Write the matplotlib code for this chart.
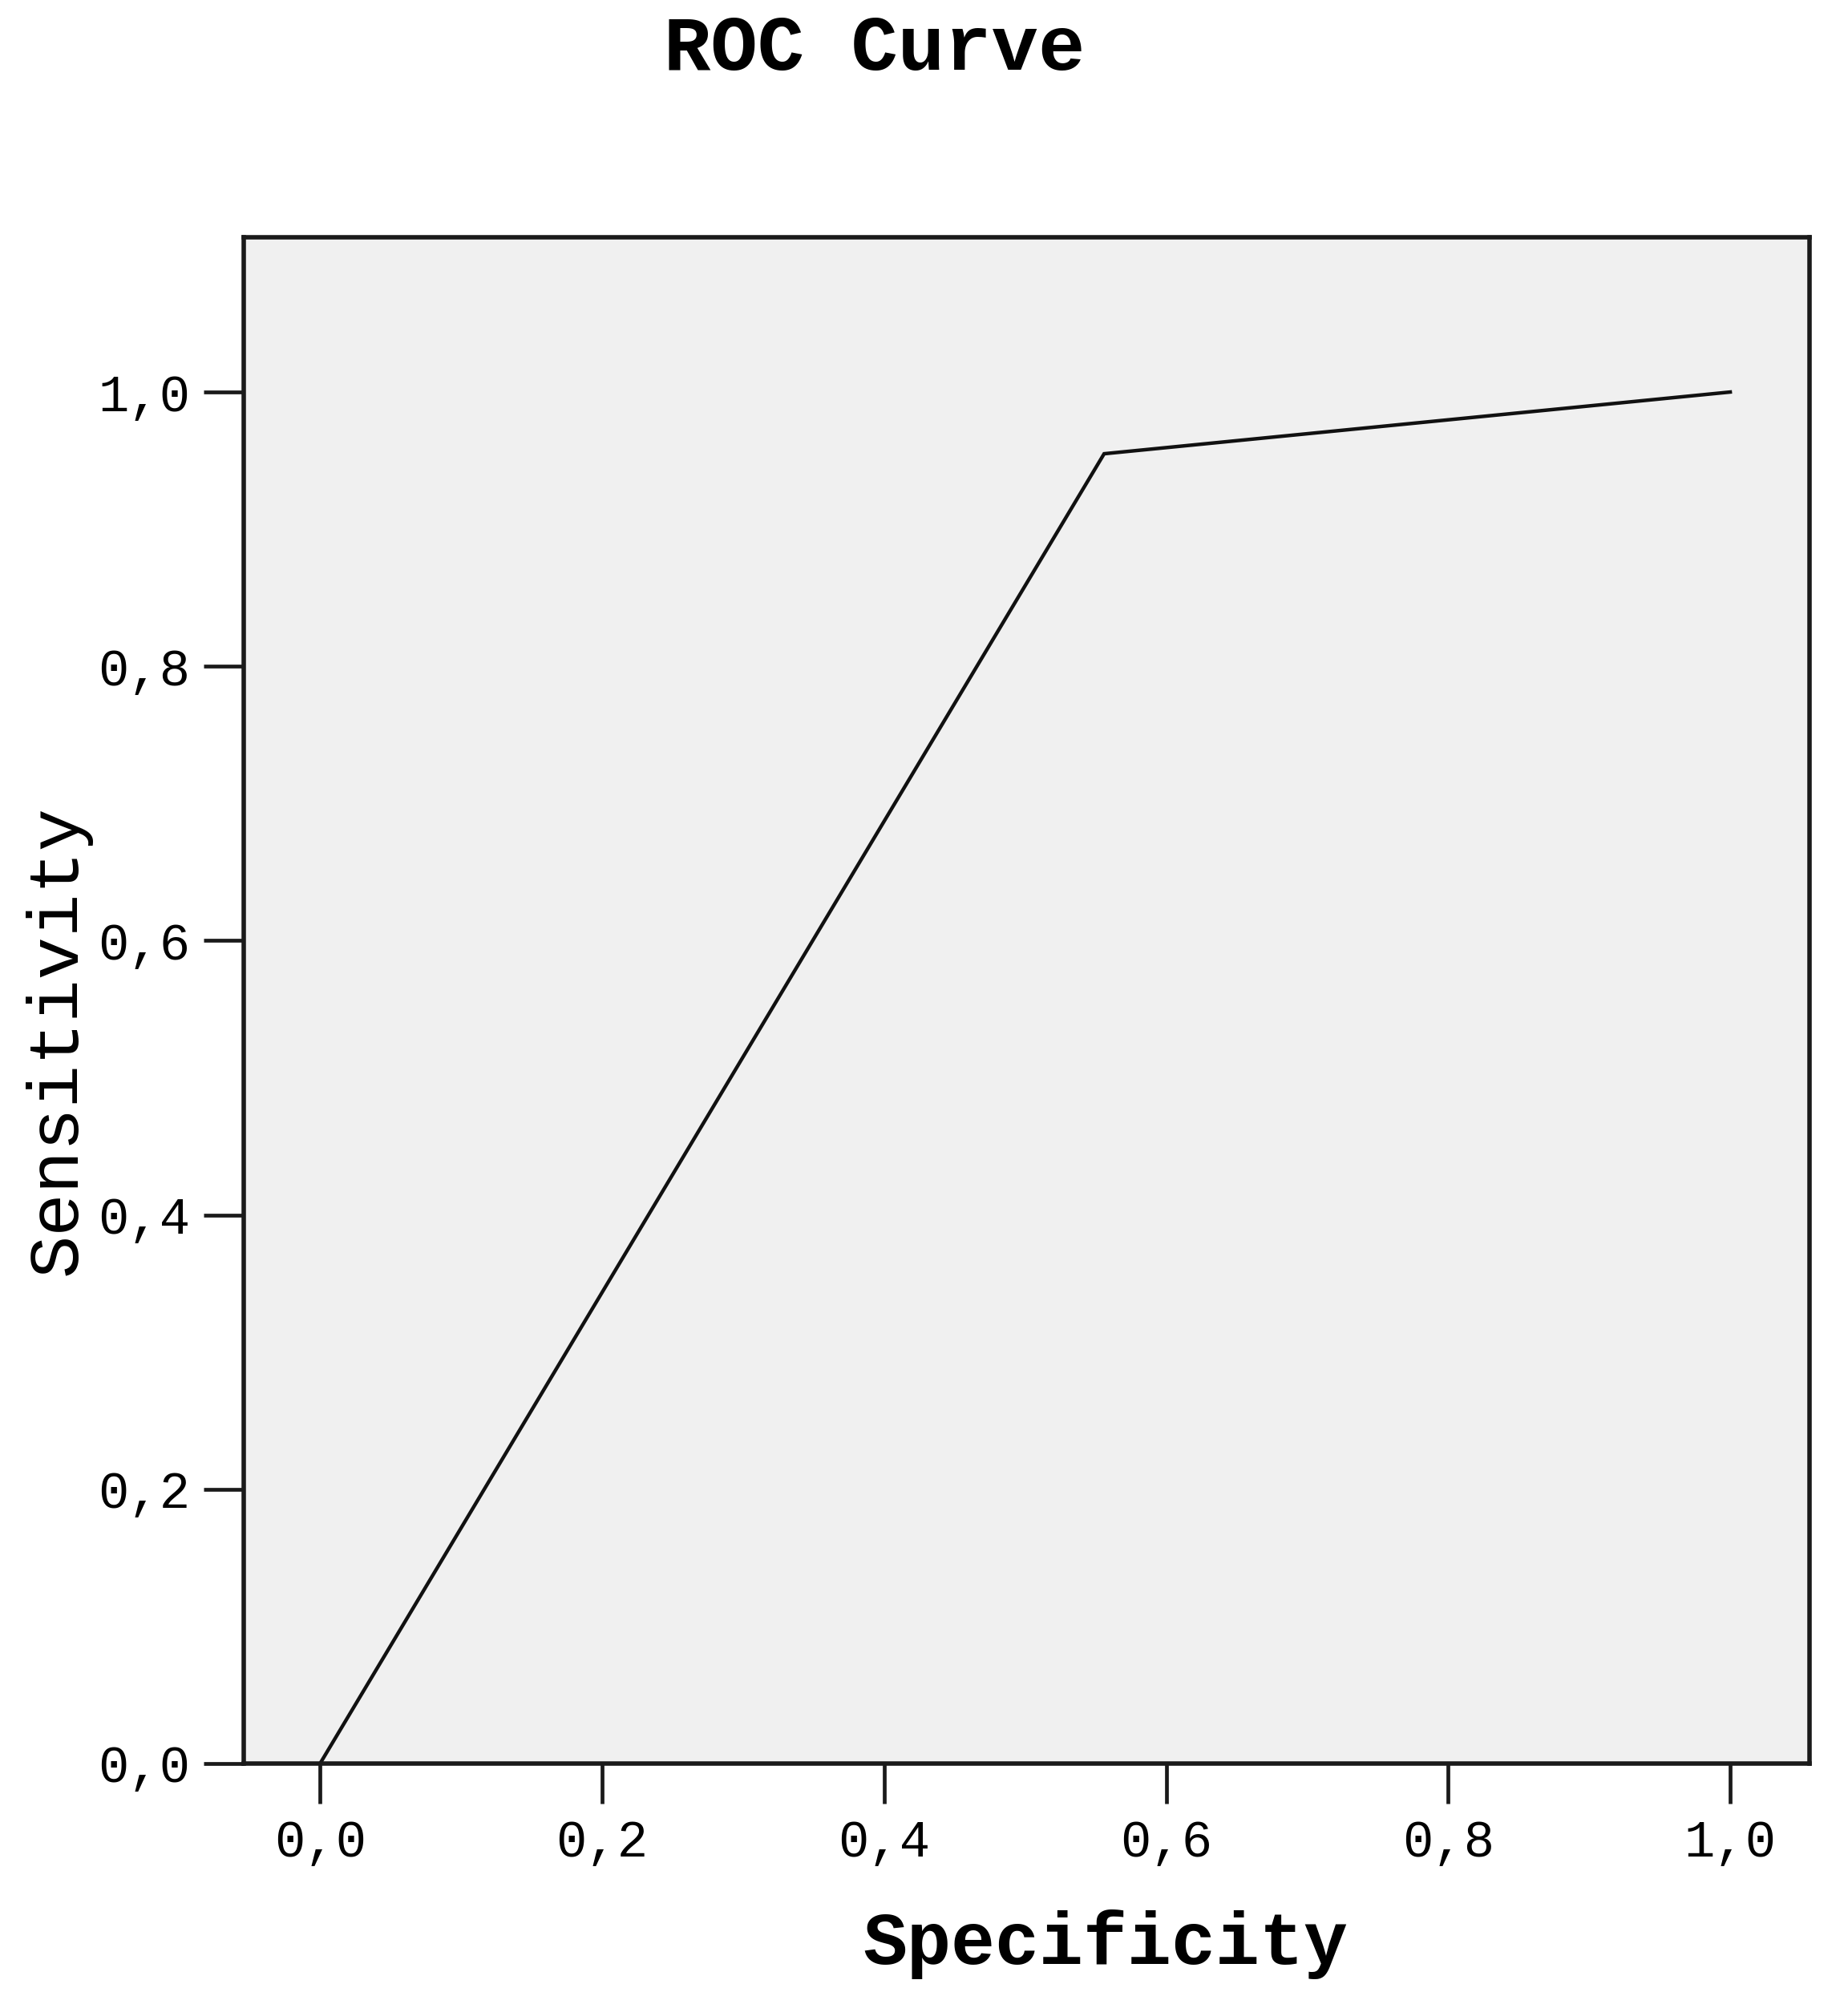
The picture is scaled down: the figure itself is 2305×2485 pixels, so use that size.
import numpy as np
import matplotlib.pyplot as plt
from matplotlib.ticker import FuncFormatter

# ROC points
specificity = [0.0, 0.556, 1.0]
sensitivity = [0.0, 0.955, 1.0]
tick_values = [0.0, 0.2, 0.4, 0.6, 0.8, 1.0]

mono = ['Liberation Mono', 'DejaVu Sans Mono']

fig = plt.figure(figsize=(23.05, 24.85), dpi=100)
ax = fig.add_axes([0.132, 0.1147, 0.847, 0.7663])
ax.set_facecolor('#f0f0f0')

ax.plot(specificity, sensitivity, color='#111111', linewidth=3.2, solid_joinstyle='miter')

ax.set_xlim(-0.054, 1.056)
ax.set_ylim(0.0, 1.113)
ax.set_xticks(tick_values)
ax.set_yticks(tick_values)
comma = FuncFormatter(lambda v, p: f'{v:.1f}'.replace('.', ','))
ax.xaxis.set_major_formatter(comma)
ax.yaxis.set_major_formatter(comma)

for side in ['left', 'right', 'top', 'bottom']:
    ax.spines[side].set_linewidth(4.0)
    ax.spines[side].set_color('#1a1a1a')

ax.tick_params(axis='both', direction='out', length=36, width=3.4, color='#1a1a1a')
ax.tick_params(axis='x', pad=14)
ax.tick_params(axis='y', pad=12)
for lbl in ax.get_xticklabels() + ax.get_yticklabels():
    lbl.set_fontfamily(mono)
    lbl.set_fontsize(46)

fig.text(0.473, 0.975, 'ROC Curve', family=mono, fontsize=70, fontweight='bold',
         ha='center', va='center')
fig.text(0.598, 0.024, 'Specificity', family=mono, fontsize=66, fontweight='bold',
         ha='center', va='center')
fig.text(0.031, 0.478, 'Sensitivity', family=mono, fontsize=64,
         ha='center', va='center', rotation=90)

fig.savefig('out.png', dpi=100, facecolor='white')
